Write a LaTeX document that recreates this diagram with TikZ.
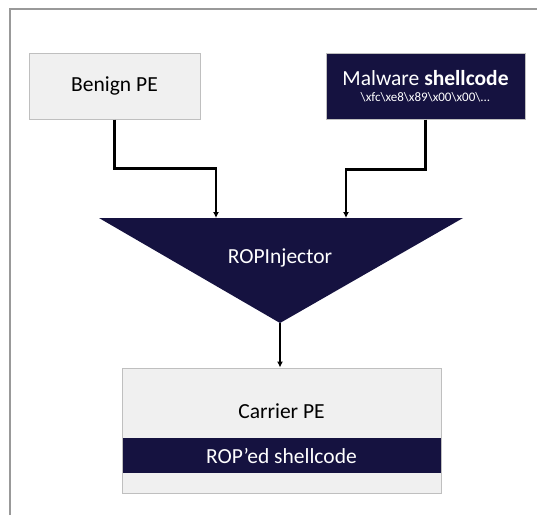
\documentclass[tikz,border=0pt]{standalone}
\usepackage{fontspec}
\setmainfont{Carlito}
\usepackage{tikz}
\usetikzlibrary{arrows.meta}

\definecolor{navy}{RGB}{21,18,64}
\definecolor{paper}{RGB}{240,240,240}
\definecolor{rim}{RGB}{191,191,191}

\begin{document}
\begin{tikzpicture}[x=1pt,y=-1pt,
  lightbox/.style={draw=rim,line width=1pt,fill=paper,inner sep=0pt},
  darkbox/.style={draw=rim,line width=1pt,fill=navy,text=white,inner sep=0pt},
  link/.style={line width=2.3pt,-{Latex[length=6pt,width=6pt]}},
  big/.style={font=\fontsize{21.5}{24}\selectfont}]
\useasboundingbox (0,0) rectangle (537,515);
\draw[rim!80!black,line width=2pt] (10,515) |- (537,9);

% inputs
\node[lightbox,big,minimum width=171pt,minimum height=66pt](benign) at (114.5,86) {Benign PE};
\node[darkbox,minimum width=199pt,minimum height=66pt,align=center](malware) at (425.5,86)
  {{\fontsize{21.5}{24}\selectfont Malware \textbf{shellcode}}\\[4pt]
   {\fontsize{13}{15}\selectfont \textbackslash xfc\textbackslash xe8\textbackslash x89\textbackslash x00\textbackslash x00\textbackslash ...}};

% the injector
\coordinate (tl) at (99,218);
\coordinate (tr) at (463,218);
\coordinate (apex) at (280,323);
\coordinate (inA) at (216,218);
\coordinate (inB) at (346,218);
\fill[navy] (tl) -- (tr) -- (apex) -- cycle;
\node[big,text=white](inj) at (280,258) {ROPInjector};

% output
\node[lightbox,minimum width=319pt,minimum height=125pt](carrier) at (281.5,430.5) {};
\node[big](carriertxt) at (281.5,411) {Carrier PE};
\node[fill=navy,text=white,big,minimum width=318pt,minimum height=35pt,inner sep=0pt](rop) at (281.5,455.5) {ROP’ed shellcode};

\draw[link] (benign.south) -- ++(0,49) -| (inA);
\draw[link] (malware.south) -- ++(0,50) -| (inB);
\draw[link] (apex) -- (apex |- carrier.north);
\end{tikzpicture}
\end{document}
